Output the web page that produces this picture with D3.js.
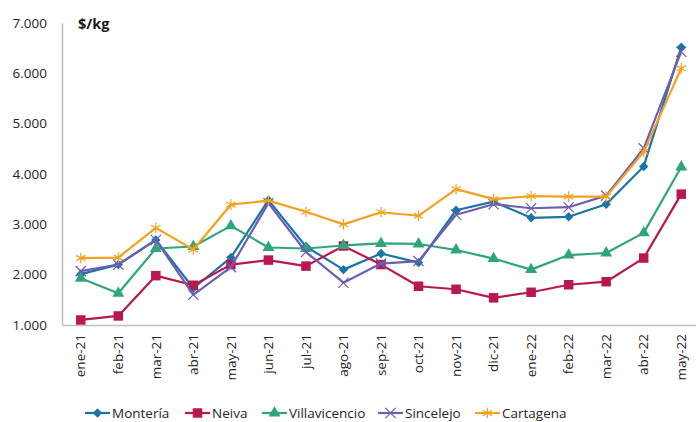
<!DOCTYPE html>
<html lang="es">
<head>
<meta charset="UTF-8">
<title>Precio $/kg</title>
<style>
  body { margin: 0; background: #fff; }
  svg { display: block; font-family: "Open Sans", "Noto Sans", sans-serif; }
</style>
</head>
<body>
<svg width="696" height="422"></svg>
<script src="https://cdn.jsdelivr.net/npm/d3@7"></script>
<script>
// meses
const months = ['ene-21','feb-21','mar-21','abr-21','may-21','jun-21','jul-21','ago-21','sep-21','oct-21','nov-21','dic-21',
                'ene-22','feb-22','mar-22','abr-22','may-22'];
const yTicks = [1000, 2000, 3000, 4000, 5000, 6000, 7000];

// precios por ciudad ($/kg)
const monteria      = [2010, 2200, 2690, 1730, 2340, 3480, 2560, 2100, 2420, 2240, 3280, 3450, 3130, 3150, 3400, 4150, 6520];
const neiva         = [1100, 1180, 1980, 1790, 2200, 2290, 2170, 2570, 2200, 1770, 1710, 1540, 1650, 1800, 1860, 2330, 3600];
const villavicencio = [1930, 1630, 2520, 2560, 2970, 2540, 2520, 2580, 2620, 2610, 2490, 2320, 2100, 2390, 2430, 2830, 4140];
const sincelejo     = [2070, 2200, 2690, 1600, 2150, 3420, 2450, 1840, 2220, 2270, 3190, 3400, 3320, 3340, 3570, 4510, 6430];
const cartagena     = [2330, 2340, 2930, 2500, 3390, 3470, 3250, 3000, 3240, 3170, 3700, 3500, 3560, 3550, 3550, 4440, 6100];

const series = [
  { name: 'Montería',      values: monteria,      color: '#1c74a6', marker: 'diamond' },
  { name: 'Neiva',         values: neiva,         color: '#b8184f', marker: 'square' },
  { name: 'Villavicencio', values: villavicencio, color: '#2fa67a', marker: 'triangle' },
  { name: 'Sincelejo',     values: sincelejo,     color: '#6c5fb2', marker: 'x' },
  { name: 'Cartagena',     values: cartagena,     color: '#f4a11f', marker: 'star' }
];

const svg = d3.select('svg');
const mLeft = 62, mRight = 700, mTop = 23, mBottom = 325;

const x = d3.scaleBand().domain(months).range([mLeft, mRight]);
const y = d3.scaleLinear().domain([1000, 7000]).range([mBottom, mTop]);
const fmt = d3.formatLocale({ decimal: ',', thousands: '.', grouping: [3], currency: ['$', ''] }).format(',');

// eje Y
const gy = svg.append('g').attr('transform', 'translate(' + mLeft + ',0)')
  .call(d3.axisLeft(y).tickValues(yTicks).tickFormat(fmt).tickSize(0).tickPadding(15));
gy.select('.domain').attr('stroke', '#bfbfbf').attr('stroke-width', 1.5);
gy.selectAll('text').attr('font-size', 13.5).attr('fill', '#262626')
  .attr('font-family', '"Open Sans", sans-serif');

// eje X
const gx = svg.append('g').attr('transform', 'translate(0,' + mBottom + ')')
  .call(d3.axisBottom(x).tickSize(0).tickPadding(0));
gx.select('.domain').attr('stroke', '#bfbfbf').attr('stroke-width', 1.5);
gx.selectAll('text')
  .attr('font-size', 13.5).attr('fill', '#262626')
  .attr('font-family', '"Open Sans", sans-serif')
  .attr('transform', 'rotate(-90)')
  .attr('text-anchor', 'end')
  .attr('x', -9).attr('y', 0).attr('dy', '0.35em');

// unidad
svg.append('text').attr('x', 78).attr('y', 29)
  .attr('font-size', 14.5).attr('font-weight', 'bold').attr('fill', '#1a1a1a')
  .text('$/kg');

const symbols = {
  diamond: d3.symbol().type(d3.symbolSquare).size(44),
  square: d3.symbol().type(d3.symbolSquare).size(90),
  triangle: d3.symbol().type(d3.symbolTriangle).size(62),
  x: d3.symbol().type(d3.symbolX).size(70),
  star: d3.symbol().type(d3.symbolAsterisk).size(80)
};

function drawMarker(g, s) {
  const p = g.append('path').attr('d', symbols[s.marker]());
  if (s.marker === 'x' || s.marker === 'star') {
    p.attr('fill', 'none').attr('stroke', s.color).attr('stroke-width', 1.2);
  } else {
    p.attr('fill', s.color);
  }
  if (s.marker === 'diamond') p.attr('transform', 'rotate(45)');
  return p;
}

const line = d3.line()
  .x((d, i) => x(months[i]) + x.bandwidth() / 2)
  .y(d => y(d));

series.forEach(s => {
  const g = svg.append('g');
  g.append('path').datum(s.values)
    .attr('d', line).attr('fill', 'none')
    .attr('stroke', s.color).attr('stroke-width', 2.2).attr('stroke-linejoin', 'round');
  s.values.forEach((v, i) => {
    const m = g.append('g')
      .attr('transform', 'translate(' + (x(months[i]) + x.bandwidth() / 2) + ',' + y(v) + ')');
    drawMarker(m, s);
  });
});

// leyenda
const legendX = [85, 185, 262, 378, 475];
const legend = svg.append('g');
series.forEach((s, i) => {
  const g = legend.append('g').attr('transform', 'translate(' + legendX[i] + ',413)');
  g.append('line').attr('x1', 0).attr('x2', 25).attr('stroke', s.color).attr('stroke-width', 2.2);
  drawMarker(g.append('g').attr('transform', 'translate(12.5,0)'), s);
  g.append('text').attr('x', 27).attr('dy', '0.35em')
    .attr('font-size', 13.5).attr('fill', '#262626').text(s.name);
});
</script>
</body>
</html>
